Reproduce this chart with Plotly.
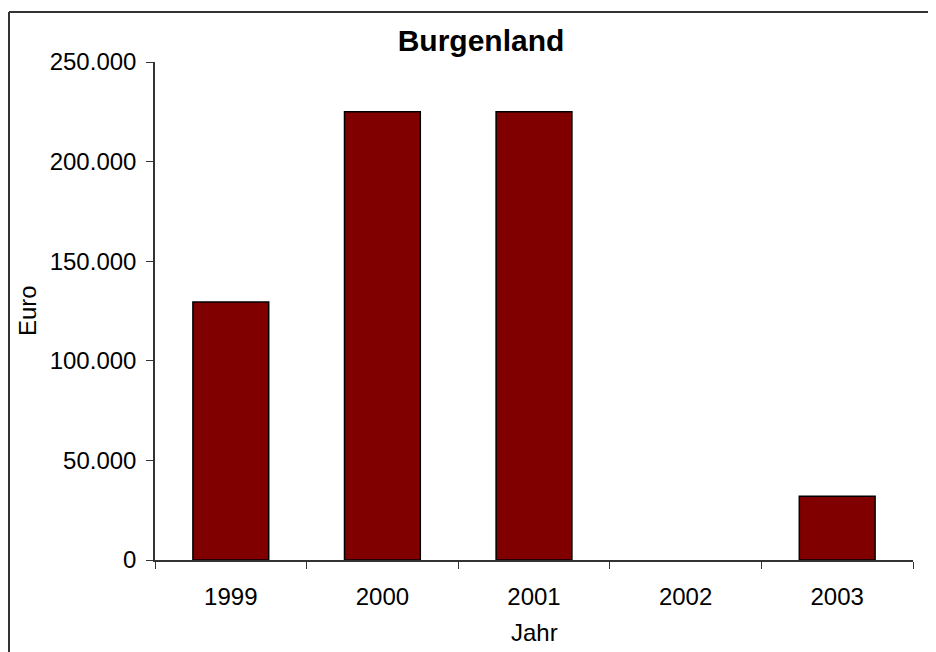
import plotly.graph_objects as go

# Daten: Burgenland, Euro je Jahr
jahre = ["1999", "2000", "2001", "2002", "2003"]
euro = [129500, 225000, 225000, 0, 32000]
y_ticks = [0, 50000, 100000, 150000, 200000, 250000]

W, H = 936, 652
OFF = 8  # Seitenrand des Browsers
L, R, T, B = 155 - OFF, 23 + OFF, 62 - OFF, 92 + OFF
pw = W - L - R
ph = H - T - B

fig = go.Figure()
fig.add_trace(go.Bar(x=jahre, y=euro, marker=dict(color="#800000",
                     line=dict(color="black",
                               width=[0 if v == 0 else 1.5 for v in euro])),
                     showlegend=False))

font = "Liberation Sans, Arial, sans-serif"
fig.update_layout(
    width=W, height=H,
    margin=dict(l=L, r=R, t=T, b=B),
    paper_bgcolor="white", plot_bgcolor="white",
    separators=",.",
    bargap=0.5,
    font=dict(family=font, size=24, color="black"),
    title=dict(text="<b>Burgenland</b>", x=(481 - OFF) / W, xanchor="center",
               y=1 - (40 - OFF) / H, yanchor="middle",
               font=dict(size=30, family=font, color="black")),
)
fig.update_xaxes(showline=True, linecolor="#333", linewidth=1.5,
                 ticks="outside", ticklen=7, tickcolor="#333",
                 tickson="boundaries", showgrid=False,
                 ticklabelstandoff=14)
fig.update_yaxes(range=[0, 250000], tickvals=y_ticks, tickformat=",.0f",
                 showline=True, linecolor="#333", linewidth=1.5,
                 ticks="outside", ticklen=7, tickcolor="#333",
                 showgrid=False, zeroline=False, ticklabelstandoff=5)

# Achsentitel
fig.add_annotation(text="Euro", textangle=-90, xref="paper", yref="paper",
                   x=(27 - OFF - L) / pw, y=0.5, showarrow=False,
                   xanchor="center", yanchor="middle")
fig.add_annotation(text="Jahr", xref="paper", yref="paper",
                   x=(534 - OFF - L) / pw, y=-(632 - OFF - T - ph) / ph,
                   showarrow=False, xanchor="center", yanchor="middle")

# Rahmen (oben und links)
top = 1 + (T - (12 - OFF)) / ph
left = (1 - L) / pw
fig.add_shape(type="line", xref="paper", yref="paper", x0=left, x1=(W - L) / pw + 0.01,
              y0=top, y1=top, line=dict(color="#333", width=2))
fig.add_shape(type="line", xref="paper", yref="paper", x0=left, x1=left,
              y0=top, y1=-(B + 5) / ph, line=dict(color="#333", width=2))

fig.write_html("out.html")
